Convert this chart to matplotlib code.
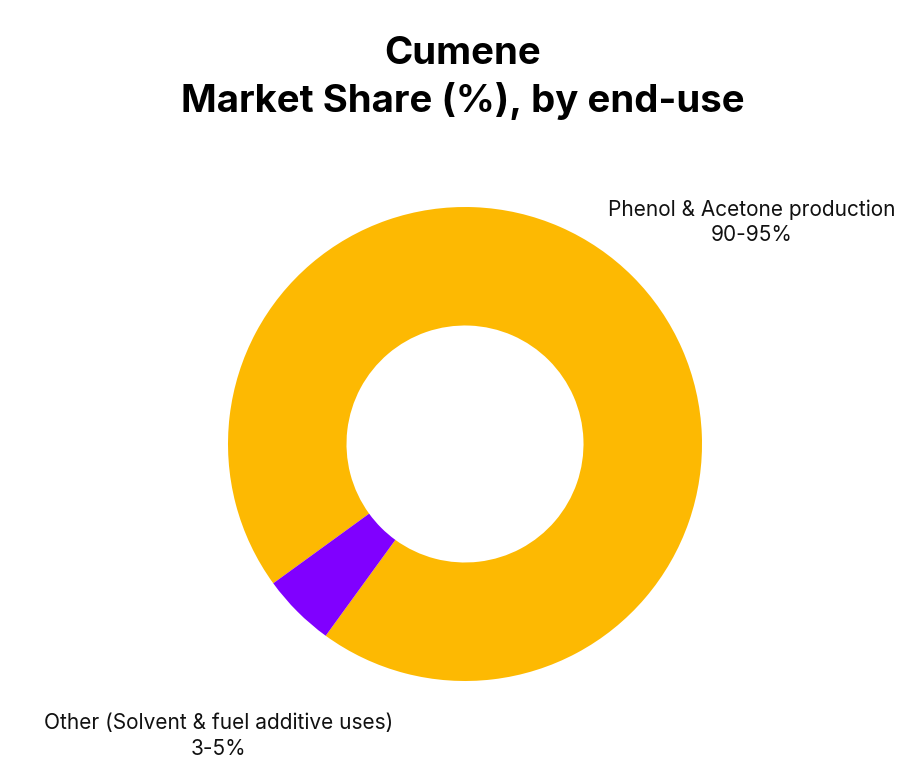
import matplotlib
matplotlib.use("Agg")
import matplotlib.pyplot as plt

plt.rcParams['font.family'] = ['Inter', 'DejaVu Sans']

categories = ["Phenol & Acetone production", "Other (Solvent & fuel additive uses)"]
range_labels = ["90-95%", "3-5%"]
values = [95, 5]
colors = ["#FDB902", "#8000FF"]

W, H = 924, 775
fig = plt.figure(figsize=(W / 100, H / 100), dpi=100)
fig.patch.set_facecolor("white")

cx, cy, r = 465, 444, 237
ax = fig.add_axes([(cx - r) / W, (H - cy - r) / H, 2 * r / W, 2 * r / H])
ax.pie(values, colors=colors, startangle=234, counterclock=True,
       radius=1.0, wedgeprops=dict(width=0.5, linewidth=0))
ax.set_xlim(-1, 1)
ax.set_ylim(-1, 1)
ax.set_aspect("equal")
ax.axis("off")

fig.text(463 / W, 1 - 54 / H, "Cumene", ha="center", va="center",
         fontsize=27.6, fontweight="bold", color="black")
fig.text(463 / W, 1 - 101 / H, "Market Share (%), by end-use", ha="center", va="center",
         fontsize=27.6, fontweight="bold", color="black")

label_pos = [(752, 222), (219, 736)]
for (x, y), cat, rng in zip(label_pos, categories, range_labels):
    fig.text(x / W, 1 - y / H, cat + "\n" + rng, ha="center", va="center",
             fontsize=15, color="#111111", linespacing=1.32)

fig.savefig("out.png", dpi=100, facecolor="white")
